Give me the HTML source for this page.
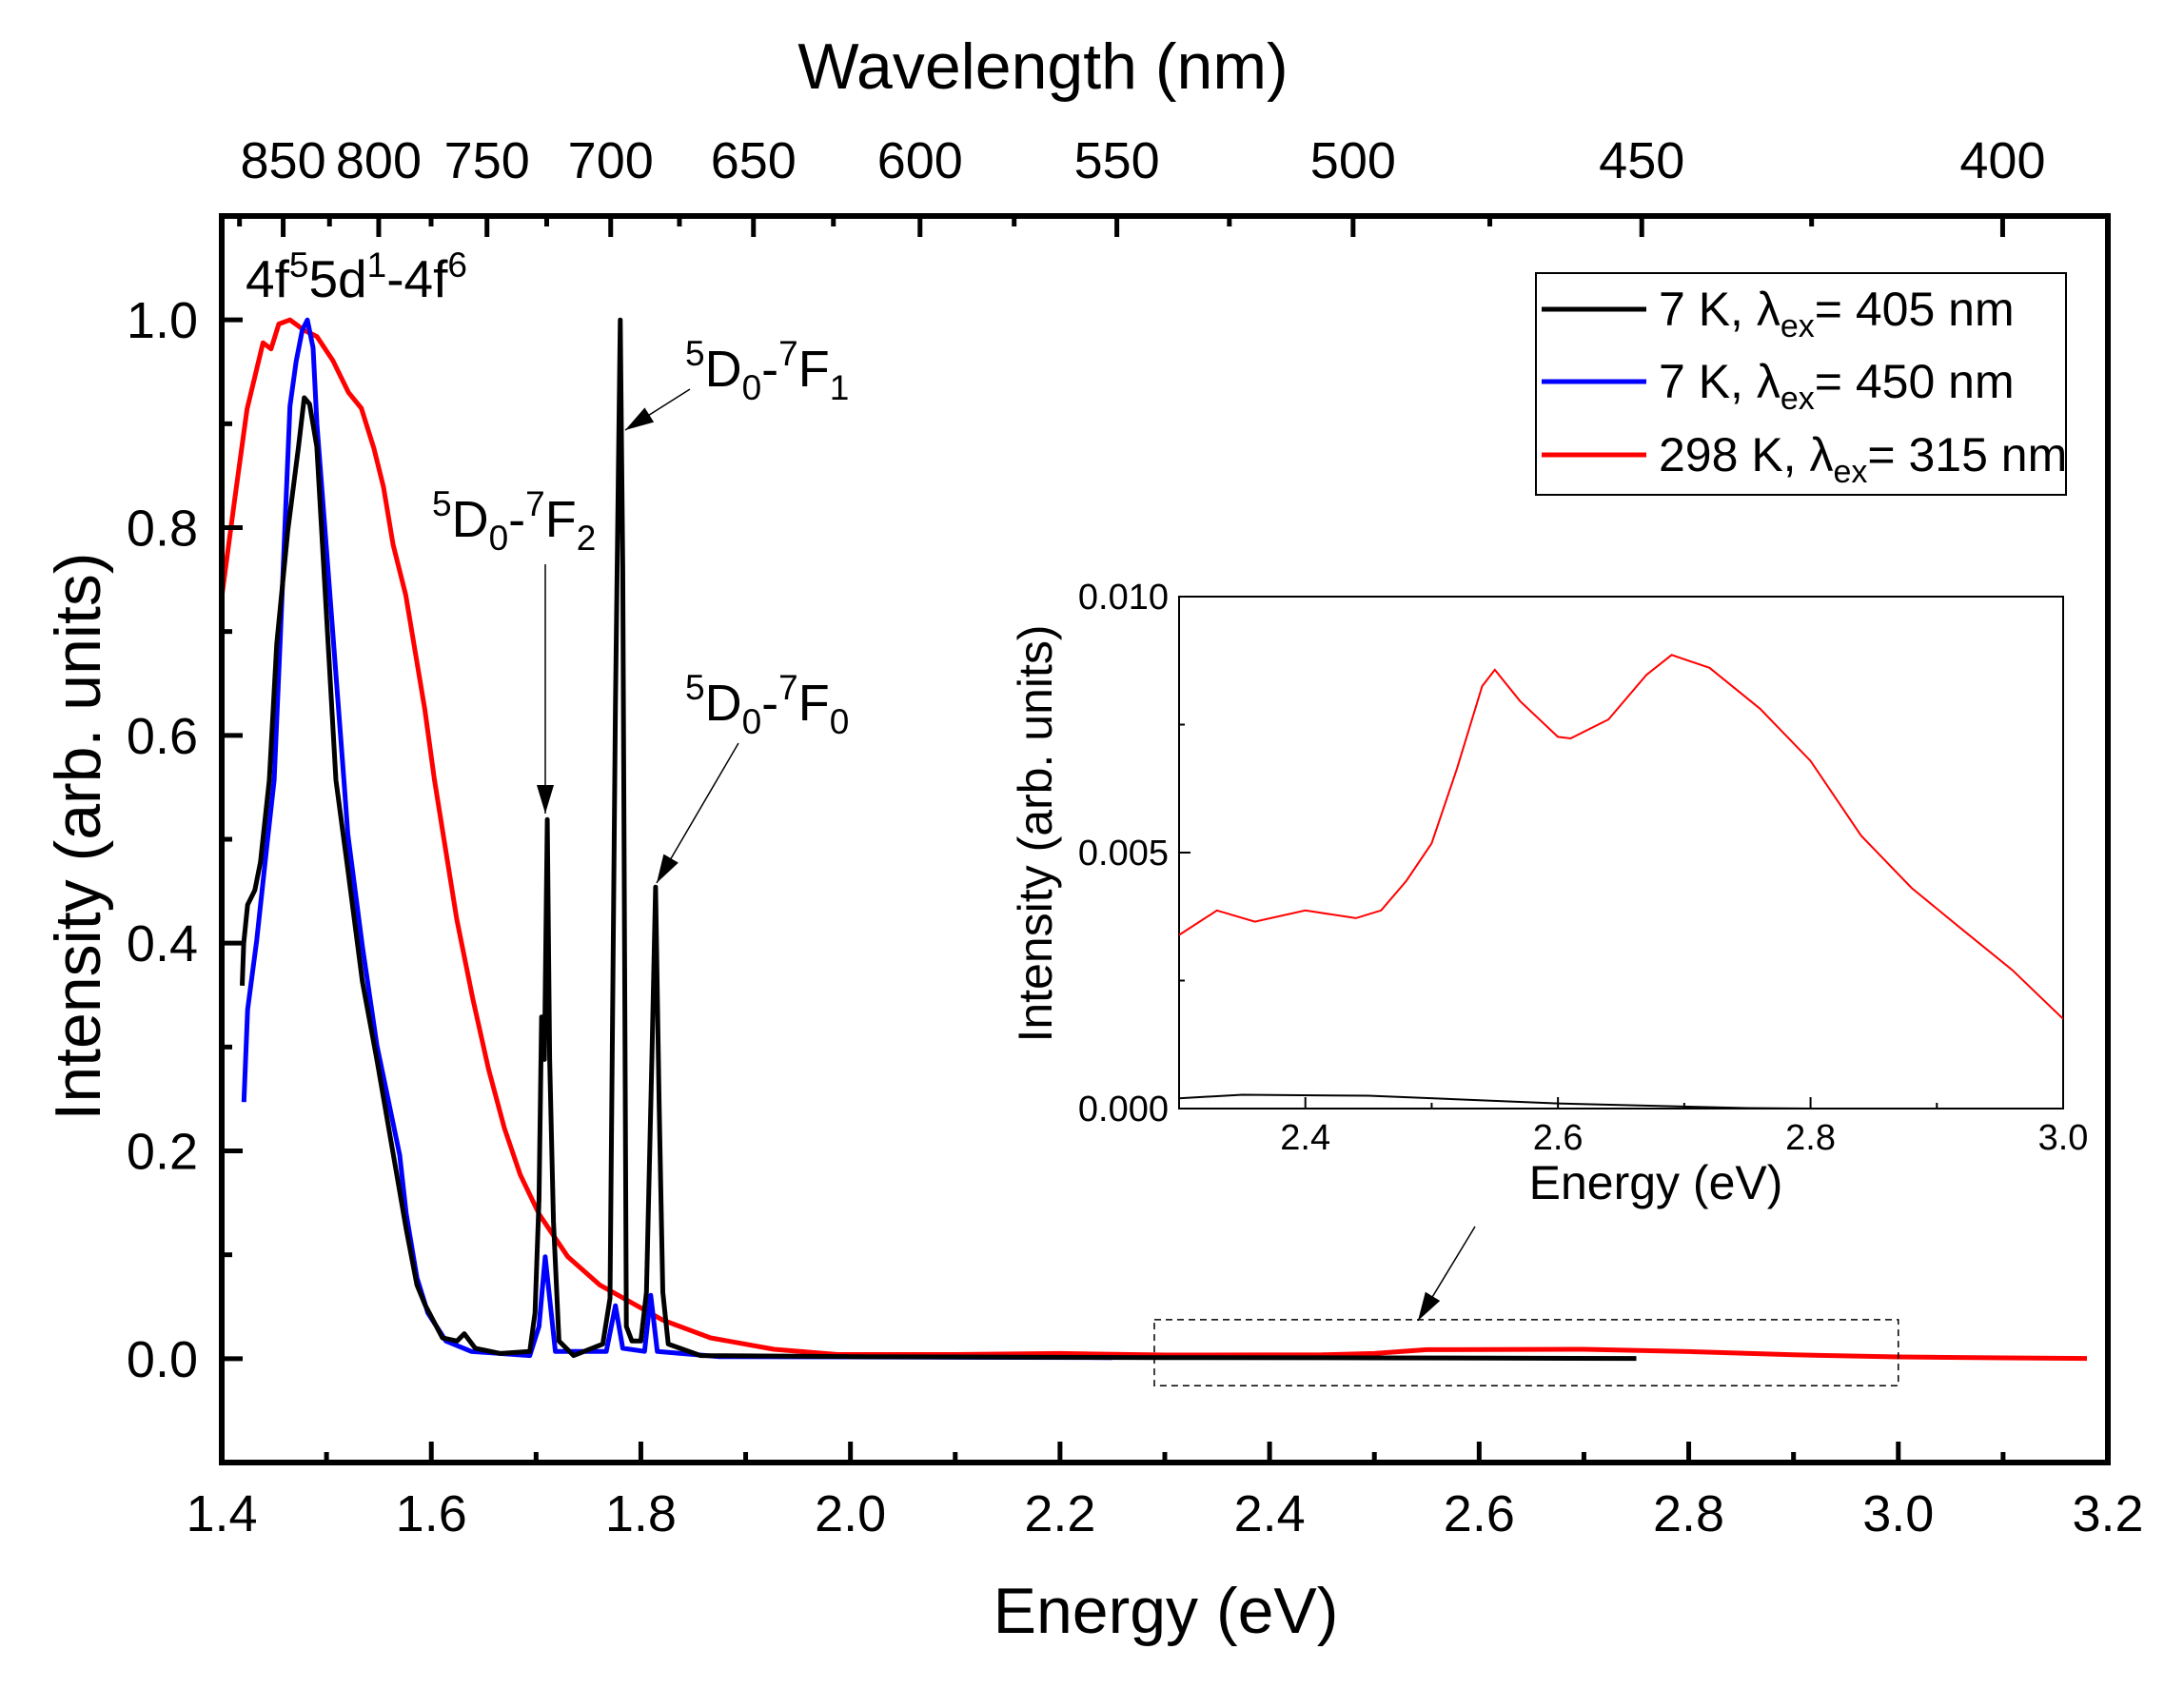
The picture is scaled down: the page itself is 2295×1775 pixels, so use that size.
<!DOCTYPE html>
<html><head><meta charset="utf-8"><style>
html,body{margin:0;padding:0;background:#fff}
svg{display:block;font-family:"Liberation Sans",Arial,sans-serif}
</style></head><body>
<svg id="chart" width="2295" height="1775" viewBox="0 0 2295 1775" xmlns="http://www.w3.org/2000/svg">
<defs>
<marker id="ahs" viewBox="0 0 10 10" refX="10" refY="5" markerWidth="30" markerHeight="30" markerUnits="userSpaceOnUse" orient="auto"><path d="M0,2 L10,5 L0,8 z" fill="#000"/></marker>
<clipPath id="mainclip"><rect x="233" y="227" width="1982" height="1310"/></clipPath>
<clipPath id="insetclip"><rect x="1239" y="627" width="929" height="538"/></clipPath>
</defs>
<g id="main"></g>
<g id="inset"></g>
<g id="ann">
<text x="258" y="312" font-size="55">4f<tspan dy="-21" font-size="37">5</tspan><tspan dy="21">5d</tspan><tspan dy="-21" font-size="37">1</tspan><tspan dy="21">-4f</tspan><tspan dy="-21" font-size="37">6</tspan></text>
<text x="720" y="406" font-size="54"><tspan dy="-22" font-size="37">5</tspan><tspan dy="22">D</tspan><tspan dy="14" font-size="37">0</tspan><tspan dy="-14">-</tspan><tspan dy="-22" font-size="37">7</tspan><tspan dy="22">F</tspan><tspan dy="14" font-size="37">1</tspan></text>
<text x="454" y="564" font-size="54"><tspan dy="-22" font-size="37">5</tspan><tspan dy="22">D</tspan><tspan dy="14" font-size="37">0</tspan><tspan dy="-14">-</tspan><tspan dy="-22" font-size="37">7</tspan><tspan dy="22">F</tspan><tspan dy="14" font-size="37">2</tspan></text>
<text x="720" y="757" font-size="54"><tspan dy="-22" font-size="37">5</tspan><tspan dy="22">D</tspan><tspan dy="14" font-size="37">0</tspan><tspan dy="-14">-</tspan><tspan dy="-22" font-size="37">7</tspan><tspan dy="22">F</tspan><tspan dy="14" font-size="37">0</tspan></text>
<line x1="725" y1="409" x2="657" y2="452" stroke="#000" stroke-width="1.5" marker-end="url(#ahs)"/>
<line x1="573" y1="593" x2="573" y2="855" stroke="#000" stroke-width="1.5" marker-end="url(#ahs)"/>
<line x1="776" y1="781" x2="690" y2="928" stroke="#000" stroke-width="1.5" marker-end="url(#ahs)"/>
<line x1="1550" y1="1289" x2="1490" y2="1388" stroke="#000" stroke-width="1.5" marker-end="url(#ahs)"/>
</g>
<g id="legend">
<rect x="1614" y="287" width="557" height="233" fill="#fff" stroke="#000" stroke-width="2"/>
<line x1="1620" y1="325" x2="1730" y2="325" stroke="#000" stroke-width="5"/>
<line x1="1620" y1="401" x2="1730" y2="401" stroke="#0000ff" stroke-width="5"/>
<line x1="1620" y1="478" x2="1730" y2="478" stroke="#ff0000" stroke-width="5"/>
<text x="1743" y="342" font-size="50">7 K, λ<tspan dy="12" font-size="34">ex</tspan><tspan dy="-12">= 405 nm</tspan></text>
<text x="1743" y="418" font-size="50">7 K, λ<tspan dy="12" font-size="34">ex</tspan><tspan dy="-12">= 450 nm</tspan></text>
<text x="1743" y="495" font-size="50">298 K, λ<tspan dy="12" font-size="34">ex</tspan><tspan dy="-12">= 315 nm</tspan></text>
</g>
</svg>
<script>
// ---- data ----
const blackE=[1.4195,1.421,1.4247,1.4316,1.437,1.4454,1.4525,1.463,1.4733,1.4787,1.4838,1.4907,1.4969,1.509,1.5203,1.5342,1.548,1.5638,1.576,1.5863,1.594,1.6106,1.6245,1.6315,1.6419,1.666,1.694,1.699,1.7028,1.7052,1.708,1.7107,1.713,1.7166,1.7219,1.7358,1.7636,1.7705,1.7757,1.7803,1.7827,1.7862,1.7914,1.8,1.8053,1.8105,1.814,1.8174,1.8209,1.8261,1.857,2.0,2.3,2.5,2.75];
const blackI=[0.359,0.40,0.437,0.451,0.478,0.557,0.688,0.797,0.878,0.925,0.919,0.878,0.77,0.557,0.471,0.363,0.288,0.196,0.125,0.071,0.052,0.020,0.017,0.024,0.010,0.005,0.007,0.044,0.153,0.329,0.288,0.519,0.288,0.132,0.017,0.003,0.014,0.058,0.627,1.0,0.763,0.031,0.017,0.017,0.064,0.288,0.454,0.247,0.064,0.014,0.003,0.002,0.001,0.0008,0.0002];
const blueE=[1.4212,1.4247,1.4334,1.4438,1.45,1.456,1.4651,1.471,1.4768,1.4817,1.4872,1.4908,1.4999,1.5166,1.5203,1.5342,1.548,1.5698,1.576,1.5863,1.5967,1.614,1.638,1.694,1.7028,1.7087,1.713,1.7184,1.767,1.7757,1.7827,1.8035,1.8094,1.8157,1.875,2.25];
const blueI=[0.247,0.336,0.403,0.50,0.557,0.697,0.917,0.96,0.99,1.0,0.973,0.90,0.78,0.557,0.505,0.397,0.302,0.196,0.14,0.078,0.044,0.017,0.007,0.003,0.031,0.098,0.058,0.007,0.007,0.051,0.010,0.007,0.061,0.007,0.002,0.001];
const redE=[1.4,1.4121,1.4242,1.4394,1.447,1.4545,1.4651,1.4787,1.4908,1.506,1.5211,1.5332,1.5453,1.5544,1.5635,1.5756,1.5847,1.5938,1.6029,1.6122,1.6243,1.6395,1.6546,1.6697,1.6849,1.703,1.7303,1.7606,1.791,1.8211,1.8665,1.927,1.9876,2.1,2.2,2.3,2.45,2.5,2.55,2.7,2.8,2.9,3.0,3.1,3.18];
const redI=[0.733,0.825,0.914,0.978,0.972,0.996,1.0,0.99,0.984,0.961,0.93,0.915,0.876,0.839,0.784,0.735,0.68,0.625,0.558,0.499,0.423,0.347,0.279,0.222,0.177,0.139,0.098,0.071,0.054,0.037,0.020,0.009,0.004,0.004,0.005,0.0035,0.0037,0.005,0.0086,0.009,0.0068,0.0037,0.0017,0.0008,0.0002];
const insetRedE=[2.30,2.33,2.36,2.40,2.44,2.46,2.48,2.50,2.52,2.54,2.55,2.57,2.60,2.61,2.64,2.67,2.69,2.72,2.76,2.80,2.84,2.88,2.92,2.96,3.00];
const insetRedI=[0.00339,0.00387,0.00365,0.00387,0.00372,0.00387,0.00445,0.00518,0.00664,0.00825,0.00857,0.00796,0.00726,0.00723,0.0076,0.00847,0.00886,0.00861,0.00781,0.00679,0.00533,0.00431,0.0035,0.0027,0.00175];
const insetBlackE=[2.30,2.35,2.45,2.6,2.75,2.8];
const insetBlackI=[0.0002,0.00027,0.00025,0.0001,0.00001,0];
const xTicks=[1.4,1.6,1.8,2.0,2.2,2.4,2.6,2.8,3.0,3.2];
const xTickLabels=["1.4","1.6","1.8","2.0","2.2","2.4","2.6","2.8","3.0","3.2"];
const yTicks=[0,0.2,0.4,0.6,0.8,1.0];
const yTickLabels=["0.0","0.2","0.4","0.6","0.8","1.0"];
const wlTicks=[850,800,750,700,650,600,550,500,450,400];
const wlMinor=[875,825,775,725,675,625,575,525,475,425];
const insetXTicks=[2.4,2.6,2.8,3.0];
const insetXLabels=["2.4","2.6","2.8","3.0"];
const insetYTicks=[0,0.005,0.010];
const insetYLabels=["0.000","0.005","0.010"];

// ---- axes ----
const L=233,R=2215,T=227,B=1537;
const X=e=>L+(e-1.4)/(3.2-1.4)*(R-L);
const Y=v=>B-(v+0.1)/1.2*(B-T);
const IL=1239,IR=2168,IT=627,IB=1165;
const IX=e=>IL+(e-2.3)/0.7*(IR-IL);
const IY=v=>IB-v/0.01*(IB-IT);
const NS="http://www.w3.org/2000/svg";
function mk(parent,tag,attrs,txt){const el=document.createElementNS(NS,tag);for(const k in attrs)el.setAttribute(k,attrs[k]);if(txt!==undefined)el.textContent=txt;parent.appendChild(el);return el;}
const main=document.getElementById('main');
const inset=document.getElementById('inset');
function path(xs,ys,fx,fy){return xs.map((e,i)=>(i?'L':'M')+fx(e).toFixed(1)+','+fy(ys[i]).toFixed(1)).join('');}

const gS=mk(main,'g',{'clip-path':'url(#mainclip)'});


let p=mk(gS,'path',{d:path(redE,redI,X,Y),fill:'none',stroke:'#ff0000','stroke-width':5,'stroke-linejoin':'round'});


p=mk(gS,'path',{d:path(blueE,blueI,X,Y),fill:'none',stroke:'#0000ff','stroke-width':5,'stroke-linejoin':'round'});


p=mk(gS,'path',{d:path(blackE,blackI,X,Y),fill:'none',stroke:'#000','stroke-width':5,'stroke-linejoin':'round'});



let db=mk(main,'rect',{x:X(2.29),y:Y(0.0375),width:X(3.0)-X(2.29),height:Y(-0.026)-Y(0.0375),fill:'none',stroke:'#000','stroke-width':1.5,'stroke-dasharray':'7,5'});



let fr=mk(main,'rect',{x:L,y:T,width:R-L,height:B-T,fill:'none',stroke:'#000','stroke-width':6});



for(let k=0;k<=18;k++){const e=1.4+k*0.1;const maj=k%2===0;
 const t=mk(main,'line',{x1:X(e),x2:X(e),y1:B,y2:B-(maj?22:11),stroke:'#000','stroke-width':5});
 
 }
xTicks.forEach((e,i)=>{const t=mk(main,'text',{x:X(e),y:1609,'font-size':54,'text-anchor':'middle'},xTickLabels[i]);
 
 });
for(let k=-1;k<=11;k++){const v=k*0.1;const maj=k>=0&&k%2===0;
 const t=mk(main,'line',{x1:L,x2:L+(maj?22:11),y1:Y(v),y2:Y(v),stroke:'#000','stroke-width':5});
 
 }
yTicks.forEach((v,i)=>{const t=mk(main,'text',{x:208,y:Y(v)+19,'font-size':54,'text-anchor':'end'},yTickLabels[i]);
 
 });
wlTicks.forEach(w=>{const x=X(1239.84/w);
 const t=mk(main,'line',{x1:x,x2:x,y1:T,y2:T+22,stroke:'#000','stroke-width':5});
 
 
 const l=mk(main,'text',{x:x,y:187,'font-size':54,'text-anchor':'middle'},String(w));
 
 });
wlMinor.forEach(w=>{const x=X(1239.84/w);
 const t=mk(main,'line',{x1:x,x2:x,y1:T,y2:T+11,stroke:'#000','stroke-width':5});
 
 });
let tt=mk(main,'text',{x:1225,y:1716,'font-size':68,'text-anchor':'middle'},'Energy (eV)');


tt=mk(main,'text',{x:1096,y:93,'font-size':68,'text-anchor':'middle'},'Wavelength (nm)');


tt=mk(main,'text',{x:0,y:0,'font-size':68,'text-anchor':'middle',transform:'translate(105,879) rotate(-90)'},'Intensity (arb. units)');



// ---- inset ----
let ib=mk(inset,'rect',{x:IL,y:IT,width:IR-IL,height:IB-IT,fill:'#fff',stroke:'#000','stroke-width':2});


const gI=mk(inset,'g',{'clip-path':'url(#insetclip)'});
p=mk(gI,'path',{d:path(insetRedE,insetRedI,IX,IY),fill:'none',stroke:'#ff0000','stroke-width':2});


p=mk(gI,'path',{d:path(insetBlackE,insetBlackI,IX,IY),fill:'none',stroke:'#000','stroke-width':2});


for(let k=0;k<=7;k++){const e=2.3+k*0.1;const maj=k%2===1;
 const t=mk(inset,'line',{x1:IX(e),x2:IX(e),y1:IB,y2:IB-(maj?12:6),stroke:'#000','stroke-width':2});
 
 }
insetXTicks.forEach((e,i)=>{const t=mk(inset,'text',{x:IX(e),y:1208,'font-size':38,'text-anchor':'middle'},insetXLabels[i]);
 
 });
for(let k=0;k<=4;k++){const v=k*0.0025;const maj=k%2===0;
 const t=mk(inset,'line',{x1:IL,x2:IL+(maj?12:6),y1:IY(v),y2:IY(v),stroke:'#000','stroke-width':2});
 
 }
insetYTicks.forEach((v,i)=>{const t=mk(inset,'text',{x:1228,y:IY(v)+13,'font-size':38,'text-anchor':'end'},insetYLabels[i]);
 
 });
tt=mk(inset,'text',{x:1740,y:1260,'font-size':50,'text-anchor':'middle'},'Energy (eV)');


tt=mk(inset,'text',{x:0,y:0,'font-size':50,'text-anchor':'middle',transform:'translate(1105,876) rotate(-90)'},'Intensity (arb. units)');


</script>
</body></html>
